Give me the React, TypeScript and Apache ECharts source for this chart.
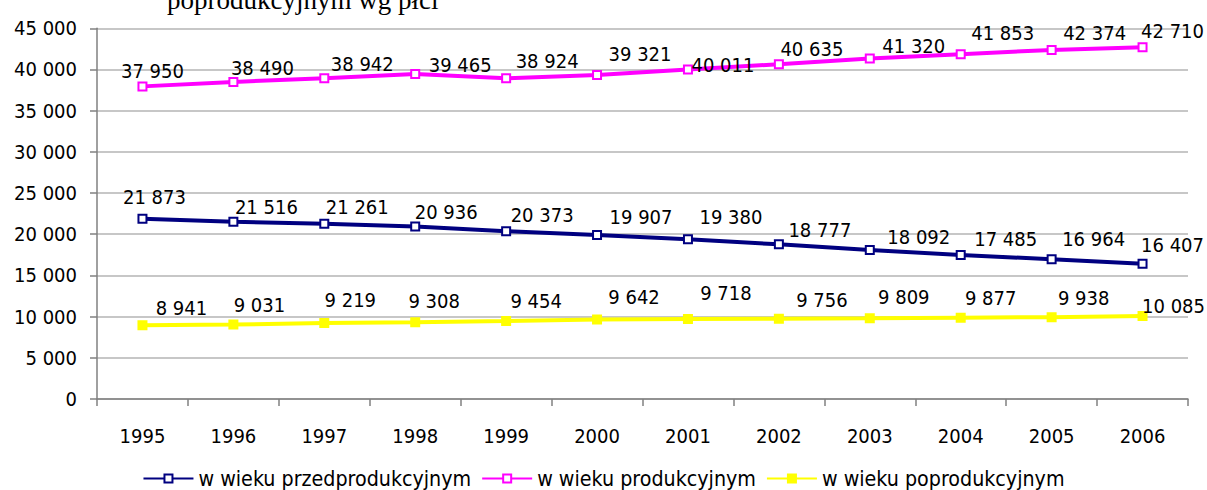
import React, { useEffect, useRef } from "react";
import * as echarts from "echarts";

const years = ["1995", "1996", "1997", "1998", "1999", "2000", "2001", "2002", "2003", "2004", "2005", "2006"];
const przedprodukcyjny = [21873, 21516, 21261, 20936, 20373, 19907, 19380, 18777, 18092, 17485, 16964, 16407];
const produkcyjny = [37950, 38490, 38942, 39465, 38924, 39321, 40011, 40635, 41320, 41853, 42374, 42710];
const poprodukcyjny = [8941, 9031, 9219, 9308, 9454, 9642, 9718, 9756, 9809, 9877, 9938, 10085];
const seriesNames = ["w wieku przedprodukcyjnym", "w wieku produkcyjnym", "w wieku poprodukcyjnym"];
const titleText = "poprodukcyjnym wg płci";

// label offsets (style) relative to each point
const przedOffsets = [[12, -22], [33, -15], [33, -17], [31, -15], [36, -16], [44, -18], [43, -22], [41, -14], [49, -13], [45, -16], [42, -20], [30, -19]];
const prodOffsets = [[10, -15], [29, -14], [38, -14], [45, -9], [41, -17], [43, -21], [35, -4], [33, -15], [44, -13], [42, -21], [43, -17], [30, -16]];
const popOffsets = [[39, -17], [26, -20], [26, -23], [19, -21], [30, -20], [37, -23], [38, -26], [43, -19], [34, -21], [30, -20], [32, -19], [31, -10]];

const FONT = "DejaVu Sans Condensed";

const fmt = (v: number) => String(v).replace(/\B(?=(\d{3})+(?!\d))/g, " ");

export default function App() {
  const ref = useRef<HTMLDivElement>(null);
  useEffect(() => {
    if (!ref.current) return;
    const chart = echarts.init(ref.current, undefined, { renderer: "svg" });
    const mk = (
      name: string,
      values: number[],
      offs: number[][],
      color: string,
      symbol: string,
      lineWidth: number
    ) => ({
      name,
      type: "line",
      data: values.map((v, i) => ({ value: v, label: { offset: offs[i] } })),
      symbol,
      symbolSize: 8,
      showAllSymbol: true,
      lineStyle: { color, width: lineWidth },
      itemStyle: { color, borderColor: color, borderWidth: 2 },
      label: {
        show: true,
        position: "inside",
        align: "center",
        verticalAlign: "middle",
        formatter: (p: any) => fmt(p.value),
        fontFamily: FONT,
        fontSize: 20,
        color: "#000",
      },
      emphasis: { disabled: true },
    });
    chart.setOption({
      animation: false,
      backgroundColor: "#fff",
      grid: { left: 97, right: 19, top: 28.3, bottom: 91, containLabel: false },
      xAxis: {
        type: "category",
        data: years,
        boundaryGap: true,
        axisLine: { lineStyle: { color: "#808080", width: 1.5 } },
        axisTick: { show: true, length: 7, interval: 0, lineStyle: { color: "#808080", width: 1.5 } },
        axisLabel: { margin: 27, fontFamily: FONT, fontSize: 20, color: "#000", interval: 0 },
        splitLine: { show: false },
      },
      yAxis: {
        type: "value",
        min: 0,
        max: 45000,
        interval: 5000,
        axisLine: { show: true, lineStyle: { color: "#808080", width: 1.5 } },
        axisTick: { show: true, length: 7, lineStyle: { color: "#808080", width: 1.5 } },
        axisLabel: { margin: 20, fontFamily: FONT, fontSize: 20, color: "#000", formatter: (v: number) => fmt(v) },
        splitLine: { show: true, lineStyle: { color: "#b4b4b4", width: 1.5 } },
      },
      legend: {
        show: true,
        data: seriesNames,
        top: 463,
        left: "center",
        itemWidth: 50,
        itemHeight: 10,
        itemGap: 10,
        textStyle: { fontFamily: FONT, fontSize: 21.25, color: "#000" },
      },
      graphic: [
        {
          type: "text",
          left: 167,
          top: -14,
          style: {
            text: titleText,
            fontFamily: "Liberation Serif",
            fontSize: 27,
            fill: "#000",
          },
        },
      ],
      series: [
        mk(seriesNames[0], przedprodukcyjny, przedOffsets, "#000080", "emptyRect", 4),
        mk(seriesNames[1], produkcyjny, prodOffsets, "#FF00FF", "emptyRect", 4),
        mk(seriesNames[2], poprodukcyjny, popOffsets, "#FFFF00", "rect", 4),
      ],
    });
    return () => chart.dispose();
  }, []);
  return (
    <div
      ref={ref}
      style={{ position: "fixed", left: 0, top: 0, width: "1207px", height: "490px" }}
    />
  );
}
